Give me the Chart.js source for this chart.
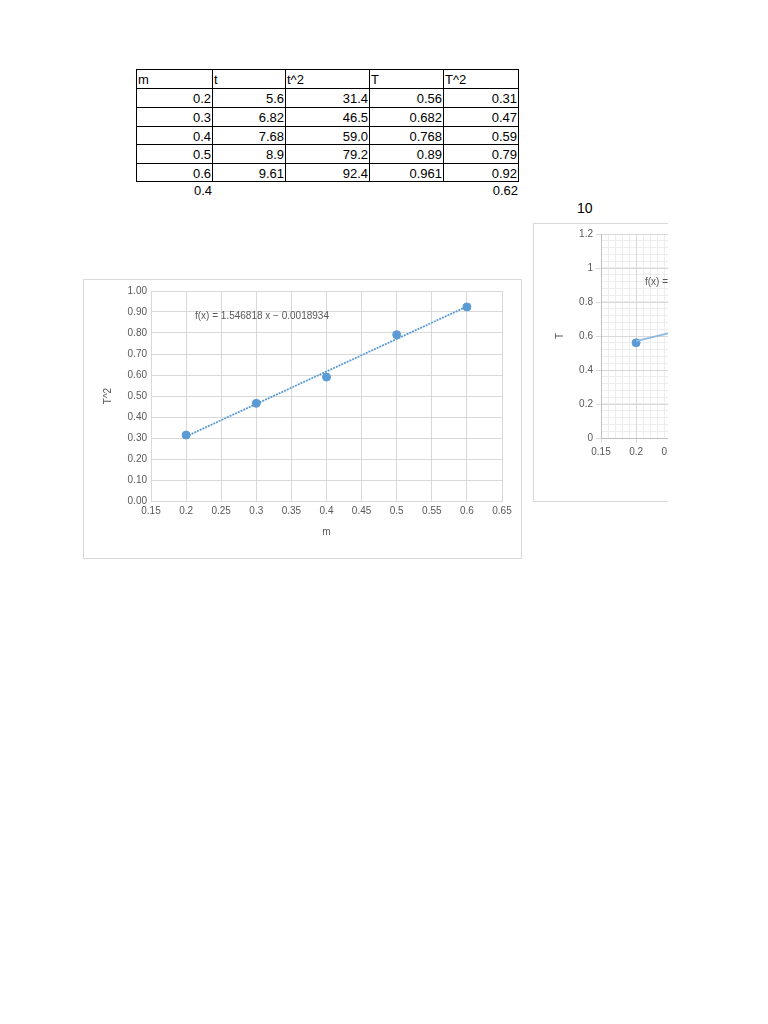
<!DOCTYPE html>
<html><head><meta charset="utf-8">
<script src="https://cdn.jsdelivr.net/npm/chart.js@4/dist/chart.umd.min.js"></script>
<style>
html,body{margin:0;padding:0;background:#fff;width:768px;height:1024px;overflow:hidden;font-family:"Liberation Sans",Arial,sans-serif;}
.cell{position:absolute;box-sizing:border-box;font-size:13px;color:#000;white-space:nowrap;padding:0 1px;overflow:hidden;}
canvas{display:block;}
</style></head><body>
<div id="table"></div>
<div style="position:absolute;left:577px;top:199px;font-size:14px;line-height:18px;color:#000;">10</div>
<div style="position:absolute;left:83px;top:279px;width:437px;height:278px;border:1px solid #d9d9d9;"><canvas id="c1" width="437" height="278"></canvas></div>
<div style="position:absolute;left:533px;top:223px;width:135px;height:280px;overflow:hidden;">
  <div style="position:absolute;left:0;top:0;width:437px;height:277px;border:1px solid #d9d9d9;"><canvas id="c2" width="437" height="277"></canvas></div>
</div>
<script>
// ---- data ----
const headers = ["m", "t", "t^2", "T", "T^2"];
const massStr = ["0.2", "0.3", "0.4", "0.5", "0.6"];
const tStr = ["5.6", "6.82", "7.68", "8.9", "9.61"];
const t2Str = ["31.4", "46.5", "59.0", "79.2", "92.4"];
const periodStr = ["0.56", "0.682", "0.768", "0.89", "0.961"];
const period2Str = ["0.31", "0.47", "0.59", "0.79", "0.92"];
const extraRow = ["0.4", "", "", "", "0.62"];
const mass = [0.2, 0.3, 0.4, 0.5, 0.6];
const periodT = [0.56, 0.682, 0.768, 0.89, 0.961];
const periodT2 = [0.314, 0.465, 0.590, 0.792, 0.924];
const trendX = [0.2, 0.6];
const trendT2 = [0.3075, 0.9262];
const trendT = [0.570, 0.974];
const eqT2 = "f(x) = 1.546818 x \u2212 0.0018934";
const eqT = "f(x) = 1.01 x + 0.3682";

// ---- table ----
const colX = [136, 212, 285, 369, 443, 518];
const rowY = [69, 88, 107, 126, 144, 163, 181, 200];
const tbl = document.getElementById('table');
const rows = [headers];
for (let i = 0; i < mass.length; i++) rows.push([massStr[i], tStr[i], t2Str[i], periodStr[i], period2Str[i]]);
function addCell(r, c, txt, bordered, align) {
  const d = document.createElement('div');
  d.className = 'cell';
  const h = rowY[r + 1] - rowY[r];
  d.style.left = colX[c] + 'px';
  d.style.top = rowY[r] + 'px';
  d.style.width = (colX[c + 1] - colX[c] + 1) + 'px';
  d.style.height = (h + 1) + 'px';
  d.style.lineHeight = (h + 1) + 'px';
  d.style.textAlign = align;
  if (bordered) d.style.border = '1px solid #000';
  d.textContent = txt;
  tbl.appendChild(d);
}
rows.forEach((row, r) => row.forEach((txt, c) => addCell(r, c, txt, true, r === 0 ? 'left' : 'right')));
extraRow.forEach((txt, c) => { if (txt) addCell(rows.length, c, txt, false, 'right'); });

// ---- charts ----
const FONT = "'Liberation Sans', Arial, sans-serif";
const GREY = '#595959';
const BLUE = '#5b9bd5';
const fmt = v => String(+(+v).toFixed(2));

const eqPlugin = {
  id: 'eq',
  afterDatasetsDraw(chart, args, opts) {
    const ctx = chart.ctx, a = chart.chartArea;
    ctx.save();
    ctx.font = opts.size + 'px ' + FONT;
    ctx.fillStyle = GREY;
    ctx.textBaseline = 'middle';
    ctx.textAlign = 'left';
    ctx.fillText(opts.text, a.left + opts.dx, a.top + opts.dy);
    ctx.restore();
  }
};

function pts(xs, ys) { return xs.map((x, i) => ({x: x, y: ys[i]})); }

new Chart(document.getElementById('c1'), {
  type: 'scatter',
  data: {
    datasets: [
      {data: pts(trendX, trendT2), showLine: true, borderColor: BLUE, borderWidth: 1.8, borderDash: [2, 1], pointRadius: 0, fill: false},
      {data: pts(mass, periodT2), pointRadius: 4, pointBackgroundColor: BLUE, pointBorderColor: BLUE, showLine: false}
    ]
  },
  options: {
    responsive: false, animation: false, events: [],
    layout: {padding: {top: 11, right: 19, left: 0, bottom: 0}},
    plugins: {legend: {display: false}, tooltip: {enabled: false},
      eq: {text: eqT2, dx: 44, dy: 25, size: 10}},
    scales: {
      x: {type: 'linear', position: 'bottom', min: 0.15, max: 0.65,
        ticks: {stepSize: 0.05, maxTicksLimit: 1000, autoSkip: false, maxRotation: 0, padding: 4, color: GREY, font: {family: FONT, size: 10}, callback: v => fmt(v)},
        grid: {color: '#d9d9d9', drawTicks: false}, border: {color: '#d9d9d9'},
        title: {display: true, text: 'm', color: GREY, font: {family: FONT, size: 10}, padding: {top: 0, bottom: 20}},
        afterFit(s) { s.height = 57; }},
      y: {type: 'linear', position: 'left', min: 0, max: 1,
        ticks: {stepSize: 0.1, maxTicksLimit: 1000, autoSkip: false, padding: 4, color: GREY, font: {family: FONT, size: 10}, callback: v => (+v).toFixed(2)},
        grid: {color: '#d9d9d9', drawTicks: false}, border: {color: '#d9d9d9'},
        title: {display: true, text: 'T^2', color: GREY, font: {family: FONT, size: 10}, padding: {top: 18, bottom: 0}},
        afterFit(s) { s.width = 67; }}
    }
  },
  plugins: [eqPlugin]
});

new Chart(document.getElementById('c2'), {
  type: 'scatter',
  data: {
    datasets: [
      {data: pts(trendX, trendT), showLine: true, borderColor: '#8fb8e0', borderWidth: 2, pointRadius: 0, fill: false},
      {data: pts(mass, periodT), pointRadius: 4, pointBackgroundColor: BLUE, pointBorderColor: BLUE, showLine: false}
    ]
  },
  options: {
    responsive: false, animation: false, events: [],
    layout: {padding: {top: 10, right: 19, left: 0, bottom: 0}},
    plugins: {legend: {display: false}, tooltip: {enabled: false},
      eq: {text: eqT, dx: 44, dy: 48, size: 10}},
    scales: {
      xm: {type: 'linear', position: 'bottom', min: 0.15, max: 0.65,
        ticks: {display: false, stepSize: 0.01, maxTicksLimit: 1000, autoSkip: false},
        grid: {color: '#ededed', drawTicks: false, z: -2}, border: {display: false},
        afterFit(s) { s.height = 0; }},
      ym: {type: 'linear', position: 'left', min: 0, max: 1.2,
        ticks: {display: false, stepSize: 0.04, maxTicksLimit: 1000, autoSkip: false},
        grid: {color: '#ededed', drawTicks: false, z: -2}, border: {display: false},
        afterFit(s) { s.width = 0; }},
      x: {type: 'linear', position: 'bottom', min: 0.15, max: 0.65,
        ticks: {stepSize: 0.05, maxTicksLimit: 1000, autoSkip: false, maxRotation: 0, padding: 3, color: GREY, font: {family: FONT, size: 10}, callback: v => fmt(v)},
        grid: {color: '#d9d9d9', tickLength: 5}, border: {color: '#bfbfbf'},
        title: {display: true, text: 'm', color: GREY, font: {family: FONT, size: 10}, padding: {top: 0, bottom: 22}},
        afterFit(s) { s.height = 63; }},
      y: {type: 'linear', position: 'left', min: 0, max: 1.2,
        ticks: {stepSize: 0.2, maxTicksLimit: 1000, autoSkip: false, padding: 3, color: GREY, font: {family: FONT, size: 10}, callback: v => fmt(v)},
        grid: {color: '#d9d9d9', tickLength: 5}, border: {color: '#bfbfbf'},
        title: {display: true, text: 'T', color: GREY, font: {family: FONT, size: 10}, padding: {top: 20, bottom: 0}},
        afterFit(s) { s.width = 67; }}
    }
  },
  plugins: [eqPlugin]
});
</script>
</body></html>
